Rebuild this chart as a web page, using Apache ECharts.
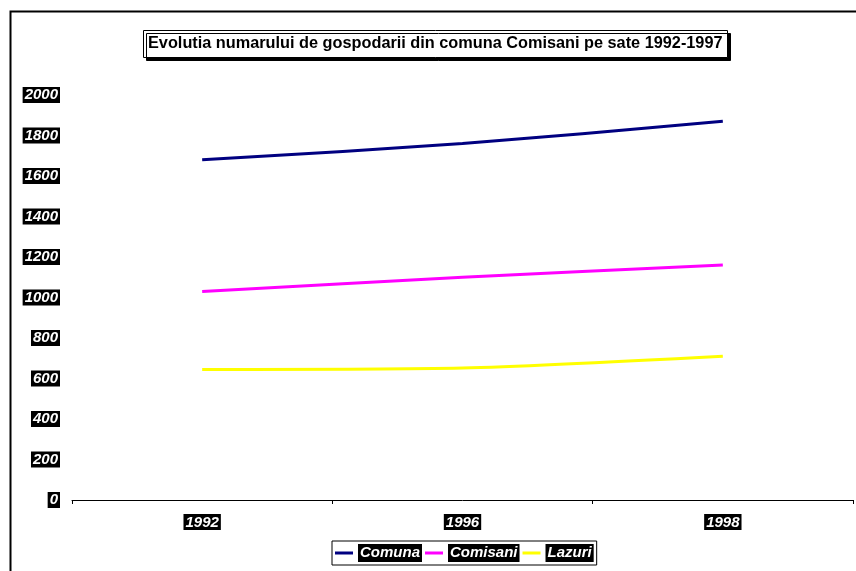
<!DOCTYPE html>
<html><head><meta charset="utf-8">
<script src="https://cdn.jsdelivr.net/npm/echarts@6/dist/echarts.min.js"></script>
<style>html,body{margin:0;padding:0;background:#fff}#c{width:856px;height:571px}</style>
</head><body><div id="c"></div>
<script>
const categories = ['1992', '1996', '1998'];
const comuna = [1680, 1760, 1870];
const comisani = [1030, 1100, 1160];
const lazuri = [645, 652, 710];
const titleText = 'Evolutia numarului de gospodarii din comuna Comisani pe sate 1992-1997';

const chart = echarts.init(document.getElementById('c'));
const labelStyle = {
  color: '#fff', backgroundColor: '#000', fontFamily: '"Liberation Sans Narrow", "Liberation Sans", Arial',
  fontWeight: 'bold', fontStyle: 'italic', fontSize: 15, padding: [1, 2, 0, 2]
};
chart.setOption({
  animation: false,
  graphic: [{
    type: 'rect', left: 8, top: 9, shape: {width: 900, height: 600},
    style: {fill: 'none', stroke: '#000', lineWidth: 2}, silent: true, z: -1
  }],
  title: {
    text: titleText, left: 143, top: 30,
    backgroundColor: '#fff', borderColor: '#000', borderWidth: 1,
    shadowColor: '#000', shadowOffsetX: 3, shadowOffsetY: 3, shadowBlur: 0,
    padding: [6, 5, 6, 5],
    textStyle: {fontFamily: 'Liberation Sans, Arial', fontWeight: 'bold', fontSize: 16.3, color: '#000'}
  },
  legend: {
    left: 332, top: 541, padding: [3, 3, 3, 3], itemGap: 3,
    borderColor: '#000', borderWidth: 1,
    icon: 'rect', itemWidth: 18, itemHeight: 3,
    textStyle: Object.assign({}, labelStyle, {fontSize: 15, padding: [2, 2, 1, 2]}),
    data: ['Comuna', 'Comisani', 'Lazuri']
  },
  grid: {left: 72, right: 3, top: 95, bottom: 71, containLabel: false},
  xAxis: {
    type: 'category', data: categories, boundaryGap: true,
    axisLine: {lineStyle: {color: '#000', width: 1}},
    axisTick: {show: true, alignWithLabel: false, interval: 0, lineStyle: {color: '#000', width: 1}, length: 4},
    axisLabel: Object.assign({margin: 14}, labelStyle)
  },
  yAxis: {
    type: 'value', min: 0, max: 2000, interval: 200,
    axisLine: {show: false}, axisTick: {show: false}, splitLine: {show: false},
    axisLabel: Object.assign({margin: 12, formatter: function (v) { return String(v); }}, labelStyle)
  },
  series: [
    {name: 'Comuna', type: 'line', data: comuna, smooth: 0.25, symbol: 'none', color: '#000080', lineStyle: {width: 3, color: '#000080'}},
    {name: 'Comisani', type: 'line', data: comisani, smooth: 0.25, symbol: 'none', color: '#FF00FF', lineStyle: {width: 3, color: '#FF00FF'}},
    {name: 'Lazuri', type: 'line', data: lazuri, smooth: 0.25, symbol: 'none', color: '#FFFF00', lineStyle: {width: 3, color: '#FFFF00'}}
  ]
});
</script></body></html>
